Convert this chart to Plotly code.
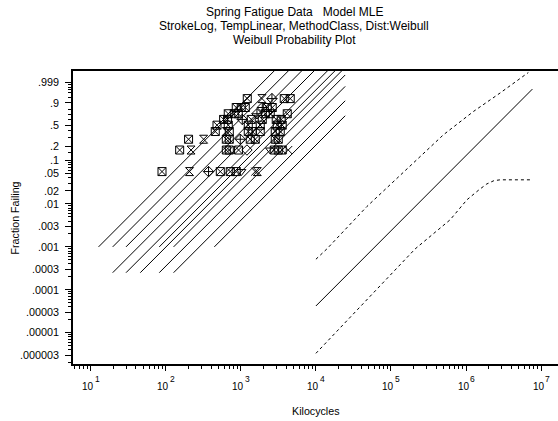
import numpy as np
import plotly.graph_objects as go

# ---------------- text ----------------
title_lines = ["Spring Fatigue Data   Model MLE",
               "StrokeLog, TempLinear, MethodClass, Dist:Weibull",
               "Weibull Probability Plot"]
x_title = "Kilocycles"
y_title = "Fraction Failing"

# ---------------- axes ----------------
y_tick_fracs = [0.999, 0.9, 0.5, 0.2, 0.1, 0.05, 0.02, 0.01, 0.003, 0.001,
                0.0003, 0.0001, 0.00003, 0.00001, 0.000003]
y_tick_text = [".999", ".9", ".5", ".2", ".1", ".05", ".02", ".01", ".003", ".001",
               ".0003", ".0001", ".00003", ".00001", ".000003"]
y_minor_fracs = [2e-6, 4e-6, 5e-6, 6e-6, 7e-6, 8e-6, 9e-6,
                 2e-5, 4e-5, 5e-5, 6e-5, 7e-5, 8e-5, 9e-5,
                 2e-4, 4e-4, 5e-4, 6e-4, 7e-4, 8e-4, 9e-4,
                 2e-3, 4e-3, 5e-3, 6e-3, 7e-3, 8e-3, 9e-3,
                 0.03, 0.04, 0.06, 0.07, 0.08, 0.09, 0.15,
                 0.3, 0.4, 0.6, 0.7, 0.8, 0.95, 0.98, 0.99, 0.995, 0.998]
x_tick_vals = [1e1, 1e2, 1e3, 1e4, 1e5, 1e6, 1e7]
x_tick_base = "10"
x_tick_exps = ["1", "2", "3", "4", "5", "6", "7"]
x_minor_vals = [m * 10.0 ** k for k in range(0, 7) for m in range(2, 10)]
x_range_kc = [5.8, 1.68e7]
y_range_frac = [1.85e-6, 0.99999999]

# ---------------- data points (kilocycles, fraction failing) ----------------
sqx_kc = [89, 532, 722, 868,
          153, 640, 701, 932, 2784, 3148, 3557,
          201, 640, 701, 1334, 1555, 2871, 3148,
          456, 701, 1255, 1419, 1812, 2871, 3346,
          481, 679, 1255, 1812, 3053, 3557,
          589, 665, 1375, 1928, 2958, 3449,
          679, 817, 923, 2113, 2462, 4150,
          868, 1012, 1145, 2248, 2618,
          1217, 3784, 4550]
sqx_frac = [0.0556] * 4 + [0.1667] * 7 + [0.2778] * 7 + [0.3889] * 7 + [0.5] * 6 + \
           [0.6111] * 6 + [0.7222] * 6 + [0.8333] * 5 + [0.9444] * 3

hg_kc = [207, 1652, 217, 319, 640, 1909]
hg_frac = [0.0556, 0.0556, 0.1667, 0.2778, 0.3889, 0.9444]

dc_kc = [371, 982, 1044, 1638, 1928, 2594]
dc_frac = [0.0556, 0.2778, 0.6111, 0.7222, 0.8333, 0.9444]

dm_kc = [1205]
dm_frac = [0.1667]

tri_kc = [1012, 2462]
tri_frac = [0.0556, 0.1667]

xx_kc = [1555, 4276]
xx_frac = [0.0556, 0.1667]

# ---------------- fitted lines ----------------
weibull_shape = 1.755
cond_start_kc = [12.7, 19.6, 29.5, 81.8, 127, 443, 19.6, 29.5, 45.7, 81.8, 127]
cond_start_frac = [0.001, 0.001, 0.001, 0.001, 0.001, 0.001,
                   0.00025, 0.00025, 0.00025, 0.00025, 0.00025]
cond_end_kc = 24550

ml_start_kc = 1.0e4
ml_start_frac = 4.18e-5
ml_end_kc = 7.66e6

upper_kc = [1.0e4, 1.40e4, 4.775e4, 1.803e5, 5.0e5, 1.256e6, 2.844e6, 6.76e6]
upper_frac = [5.15e-4, 8.97e-4, 8.71e-3, 0.0724, 0.339, 0.765, 0.9798, 0.999992]
lower_kc = [1.0e4, 2.099e5, 6.138e5, 1.026e6, 1.50e6, 1.89e6, 2.35e6, 2.844e6, 7.66e6]
lower_frac = [3.28e-6, 8.97e-4, 4.28e-3, 0.01245, 0.0215, 0.0290, 0.0345, 0.0361, 0.0361]


def wt(p):
    p = np.asarray(p, dtype=float)
    return np.log10(-np.log1p(-p))


def line_through(t0, f0, t1, beta):
    y0 = wt(f0)
    y1 = y0 + beta * (np.log10(t1) - np.log10(t0))
    return [t0, t1], [float(y0), float(y1)]


fig = go.Figure()

for t0, f0 in zip(cond_start_kc, cond_start_frac):
    xs, ys = line_through(t0, f0, cond_end_kc, weibull_shape)
    fig.add_trace(go.Scatter(x=xs, y=ys, mode="lines",
                             line=dict(color="black", width=1), showlegend=False))

xs, ys = line_through(ml_start_kc, ml_start_frac, ml_end_kc, weibull_shape)
fig.add_trace(go.Scatter(x=xs, y=ys, mode="lines",
                         line=dict(color="black", width=1), showlegend=False))
fig.add_trace(go.Scatter(x=upper_kc, y=wt(upper_frac), mode="lines",
                         line=dict(color="black", width=1, dash="3px,3px"),
                         showlegend=False))
fig.add_trace(go.Scatter(x=lower_kc, y=wt(lower_frac), mode="lines",
                         line=dict(color="black", width=1, dash="3px,3px"),
                         showlegend=False))

marker_sets = [
    (sqx_kc, sqx_frac, "square-x-open"),
    (hg_kc, hg_frac, "hourglass-open"),
    (dc_kc, dc_frac, "diamond-cross-open"),
    (dm_kc, dm_frac, "diamond-open"),
    (tri_kc, tri_frac, "triangle-down-open"),
    (xx_kc, xx_frac, "x-thin-open"),
]
for kc, fr, sym in marker_sets:
    fig.add_trace(go.Scatter(x=kc, y=wt(fr), mode="markers",
                             marker=dict(symbol=sym, size=8, color="black",
                                         line=dict(color="black", width=1)),
                             showlegend=False))

font_family = "Liberation Sans, Arial, sans-serif"

fig.update_layout(
    width=558, height=421,
    margin=dict(l=73, r=0, t=71, b=57),
    paper_bgcolor="white", plot_bgcolor="white",
    font=dict(family=font_family, color="black"),
    showlegend=False,
)

fig.update_xaxes(
    type="log", range=[float(np.log10(x_range_kc[0])), float(np.log10(x_range_kc[1]))],
    showgrid=False, zeroline=False,
    showline=True, linecolor="black", linewidth=1.5, mirror=True,
    ticks="outside", ticklen=5, tickwidth=1, tickcolor="black",
    tickmode="array", tickvals=x_tick_vals, showticklabels=False,
    minor=dict(ticks="outside", ticklen=3, tickwidth=1, tickcolor="black",
               tickmode="array", tickvals=x_minor_vals, showgrid=False),
)
fig.update_yaxes(
    range=[float(wt(y_range_frac[0])), 1.105],
    showgrid=False, zeroline=False,
    showline=True, linecolor="black", linewidth=1.5, mirror=False,
    ticks="outside", ticklen=6, tickwidth=1, tickcolor="black",
    tickmode="array", tickvals=[float(v) for v in wt(y_tick_fracs)], ticktext=y_tick_text,
    tickfont=dict(size=10.8, family=font_family),
    ticklabelstandoff=4,
    minor=dict(ticks="outside", ticklen=3, tickwidth=1, tickcolor="black",
               tickmode="array", tickvals=[float(v) for v in wt(y_minor_fracs)], showgrid=False),
)

# x tick labels: "10" with a raised exponent
for tv, ex in zip(x_tick_vals, x_tick_exps):
    lx = float(np.log10(tv))
    fig.add_annotation(text=x_tick_base, xref="x", yref="paper", x=lx, y=-0.0768,
                       xanchor="center", yanchor="middle", xshift=-2.5, showarrow=False,
                       font=dict(size=10, family=font_family))
    fig.add_annotation(text=ex, xref="x", yref="paper", x=lx, y=-0.0529,
                       xanchor="center", yanchor="middle", xshift=6.3, showarrow=False,
                       font=dict(size=8.5, family=font_family))

title_y = [1.2024, 1.1536, 1.1058]
for txt, yy in zip(title_lines, title_y):
    fig.add_annotation(text=txt, xref="paper", yref="paper", x=0.4557, y=yy,
                       xanchor="center", yanchor="middle", showarrow=False,
                       font=dict(size=12, family=font_family))

fig.add_annotation(text=x_title, xref="paper", yref="paper", x=0.5, y=-0.159,
                   xanchor="center", yanchor="middle", showarrow=False,
                   font=dict(size=10.7, family=font_family))
fig.add_annotation(text=y_title, xref="paper", yref="paper", x=-0.1196, y=0.5,
                   xanchor="center", yanchor="middle", showarrow=False, textangle=-90,
                   font=dict(size=10.7, family=font_family))

fig.write_html("out.html")
